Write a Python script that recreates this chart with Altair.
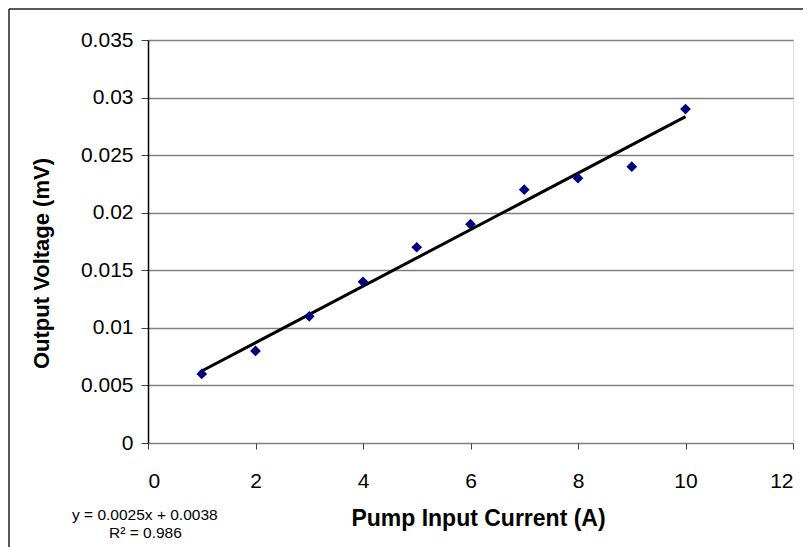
import altair as alt
import pandas as pd

current = [1, 2, 3, 4, 5, 6, 7, 8, 9, 10]
voltage = [0.006, 0.008, 0.011, 0.014, 0.017, 0.019, 0.022, 0.023, 0.024, 0.029]
y_ticks = [0, 0.005, 0.01, 0.015, 0.02, 0.025, 0.03, 0.035]
x_ticks = [0, 2, 4, 6, 8, 10, 12]
eq_text = "y = 0.0025x + 0.0038"
r2_text = "R² = 0.986"

df = pd.DataFrame({"x": current, "y": voltage})

FONT = "Liberation Sans"
W, H = 645, 403

xs = alt.Scale(domain=[0, 12], nice=False, zero=False)
ys = alt.Scale(domain=[0, 0.035], nice=False)

base = alt.Chart(df)

points = base.mark_point(shape="diamond", filled=True, size=115, color="#000080", opacity=1).encode(
    x=alt.X("x:Q", scale=xs, axis=alt.Axis(
        values=x_ticks, format="d", title="Pump Input Current (A)", grid=False,
        domain=False, tickColor="#404040", tickSize=6, tickWidth=1,
        labelFont=FONT, labelFontSize=21, labelColor="black", labelPadding=21,
        titleFont=FONT, titleFontSize=23, titleFontWeight="bold", titleColor="black",
        titleX=330, titleY=75, titleBaseline="middle")),
    y=alt.Y("y:Q", scale=ys, axis=alt.Axis(
        values=y_ticks, format="~g", title="Output Voltage (mV)",
        grid=True, gridColor="#808080", gridWidth=1.5,
        domain=True, domainColor="black", domainWidth=1.5,
        tickColor="#404040", tickSize=7, tickWidth=1,
        labelFont=FONT, labelFontSize=21, labelColor="black", labelPadding=8,
        titleFont=FONT, titleFontSize=22, titleFontWeight="bold", titleColor="black",
        titleX=-107, titleY=223, titleBaseline="middle", titleAngle=-90)),
)

trend = base.transform_regression("x", "y", extent=[1, 10]).mark_line(
    color="black", strokeWidth=3
).encode(x=alt.X("x:Q", scale=xs), y=alt.Y("y:Q", scale=ys))

eq = alt.Chart(pd.DataFrame({"t": [eq_text]})).mark_text(
    font=FONT, fontSize=15.5, align="left", baseline="middle", color="black"
).encode(text="t:N", x=alt.value(-76), y=alt.value(475))

r2 = alt.Chart(pd.DataFrame({"t": [r2_text]})).mark_text(
    font=FONT, fontSize=15.5, align="left", baseline="middle", color="black"
).encode(text="t:N", x=alt.value(-39), y=alt.value(493))

frame_left = alt.Chart(pd.DataFrame({"a": [0]})).mark_rule(
    color="#202020", strokeWidth=1.5, clip=False
).encode(x=alt.value(-139), y=alt.value(-31), y2=alt.value(600))

frame_top = alt.Chart(pd.DataFrame({"a": [0]})).mark_rule(
    color="#202020", strokeWidth=1.5, clip=False
).encode(x=alt.value(-139), x2=alt.value(700), y=alt.value(-31))

chart = alt.layer(frame_left, frame_top, trend, points, eq, r2).properties(
    width=W, height=H,
    autosize=alt.AutoSizeParams(type="none"),
    padding={"left": 140, "top": 32, "right": 10, "bottom": 104},
).configure_view(stroke="#808080", strokeWidth=1.5).configure(background="white")

chart.save("out.html", embed_options={"renderer": "svg", "actions": False})
